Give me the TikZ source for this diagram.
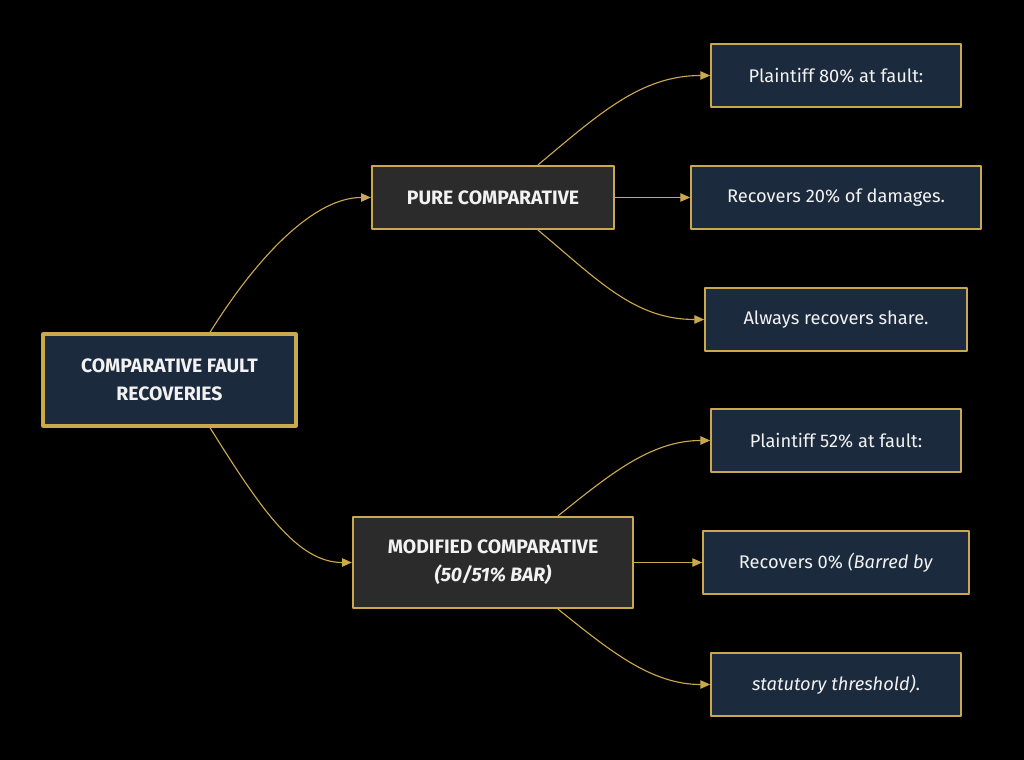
\documentclass[tikz,border=0pt]{standalone}
\usepackage{fontspec}
\setmainfont{Fira Sans}
\usetikzlibrary{arrows.meta}
\definecolor{navy}{HTML}{1C2A3D}
\definecolor{slate}{HTML}{2B2B2B}
\definecolor{gold}{HTML}{C9A84E}
\definecolor{paper}{HTML}{F2F2F2}
\tikzset{
  box/.style={draw=gold, text=paper, align=center, inner sep=0pt, font=\fontsize{13}{20}\selectfont},
  rootbox/.style={box, fill=navy, line width=2.2pt, font=\fontsize{13.8}{20}\selectfont\bfseries},
  midbox/.style={box, fill=slate, line width=1.6pt, font=\fontsize{13.8}{20}\selectfont\bfseries},
  leafbox/.style={box, fill=navy, line width=1.1pt, minimum height=1.575cm},
  link/.style={draw=gold, line width=0.8pt, -{Triangle[length=7pt,width=6pt]}}
}
\begin{document}
\begin{tikzpicture}[x=0.025cm, y=-0.025cm, line join=round]
	\fill[black] (0,0) rectangle (1024,760);
	% left and middle column
	\node[rootbox, minimum width=6.325cm, minimum height=2.3cm] (root) at (169.5,380) {COMPARATIVE FAULT\\RECOVERIES};
	\node[midbox, minimum width=6.05cm, minimum height=1.575cm] (pure) at (493,197.5) {PURE COMPARATIVE};
	\node[midbox, minimum width=7cm, minimum height=2.275cm] (mod) at (493,562.5) {MODIFIED COMPARATIVE\\\textit{(50/51\% BAR)}};
	% right column
	\node[leafbox, minimum width=6.25cm] (p80) at (836,75.5) {Plaintiff 80\% at fault:};
	\node[leafbox, minimum width=7.25cm] (r20) at (836,197.5) {Recovers 20\% of damages.};
	\node[leafbox, minimum width=6.55cm] (share) at (836,319.5) {Always recovers share.};
	\node[leafbox, minimum width=6.25cm] (p52) at (836,440.5) {Plaintiff 52\% at fault:};
	\node[leafbox, minimum width=6.65cm] (r0) at (836,562.5) {Recovers 0\% \textit{(Barred by}};
	\node[leafbox, minimum width=6.25cm] (stat) at (836,684.5) {\textit{statutory threshold)}.};
	% connectors
	\draw[link] ([xshift=1.01cm]root.north) .. controls +(50,-80) and +(-55,0) .. (pure.west);
	\draw[link] ([xshift=1.01cm]root.south) .. controls +(50,80) and +(-55,0) .. (mod.west);
	\draw[link] ([xshift=1.125cm]pure.north) .. controls +(60,-50) and +(-70,0) .. (p80.west);
	\draw[link] (pure.east) -- (r20.west);
	\draw[link] ([xshift=1.125cm]pure.south) .. controls +(60,50) and +(-70,0) .. (share.west);
	\draw[link] ([xshift=1.625cm]mod.north) .. controls +(50,-40) and +(-60,0) .. (p52.west);
	\draw[link] (mod.east) -- (r0.west);
	\draw[link] ([xshift=1.625cm]mod.south) .. controls +(50,40) and +(-60,0) .. (stat.west);
\end{tikzpicture}
\end{document}
